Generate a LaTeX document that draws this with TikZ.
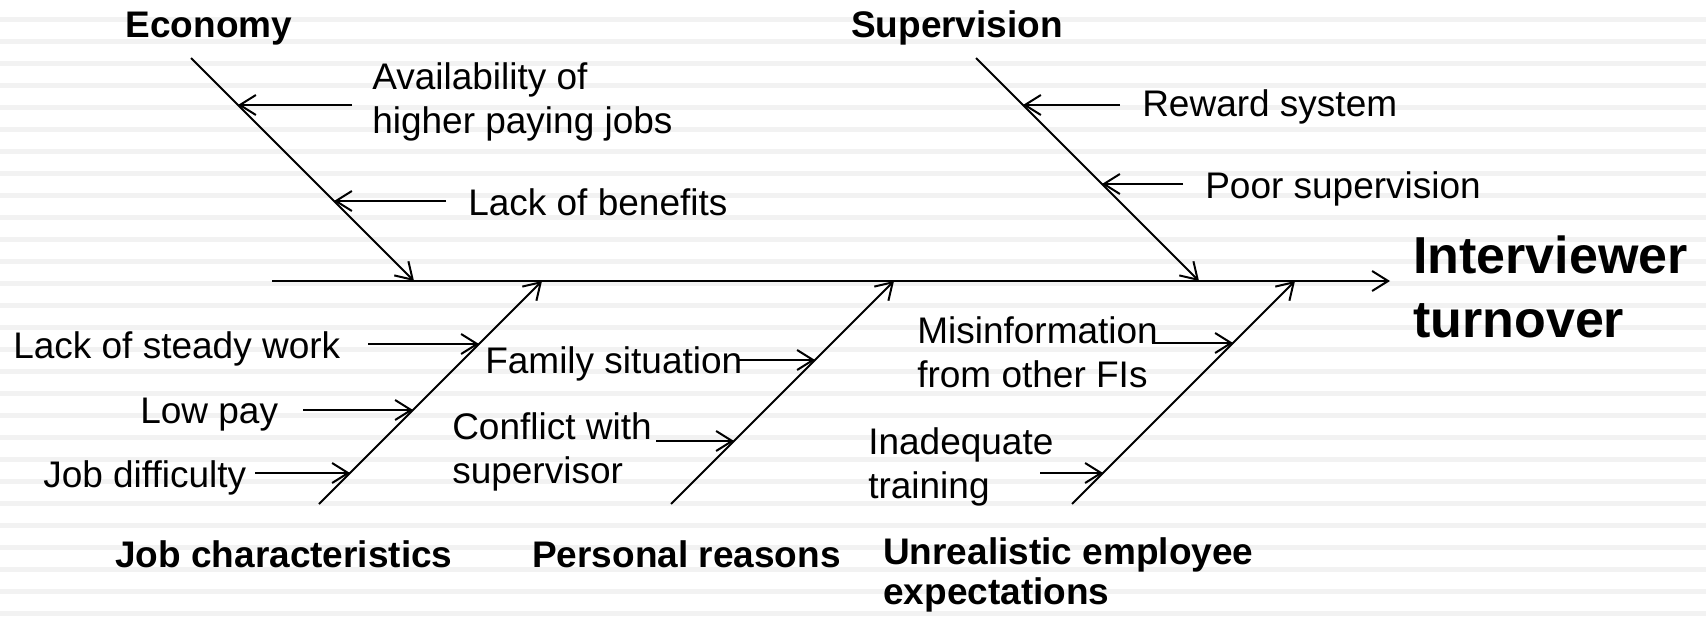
\documentclass[tikz,border=0pt]{standalone}
\usepackage{fontspec}
\setmainfont{Liberation Sans}
\usetikzlibrary{arrows.meta}
\definecolor{stripe}{RGB}{242,242,242}

\tikzset{
  bone/.style={line width=1.5pt},
  cause/.style={line width=1.5pt,-{Straight Barb[length=12pt,width=15pt,line width=1.5pt]}},
  txt/.style={inner sep=0pt,anchor=base west,align=left,font=\fontsize{27.75}{33}\selectfont},
  head/.style={inner sep=0pt,anchor=base west,align=left,font=\fontsize{27.75}{30}\selectfont\bfseries},
}

\begin{document}
\begin{tikzpicture}[x=0.75pt,y=-0.75pt]
\fill[white] (0,0) rectangle (1706,617);
\foreach \k in {0,...,27}
  \fill[stripe] (0,17+22*\k) rectangle (1706,22+22*\k);
\useasboundingbox (0,0) rectangle (1706,617);
%
\draw[cause] (272,281) coordinate(tail) -- (1390,281) coordinate(effect);
\draw[cause] (191,58)  coordinate(econ)  -- (414,281)  coordinate(econ-tip);
\draw[cause] (976,58)  coordinate(super) -- (1199,281) coordinate(super-tip);
\draw[cause] (319,504) coordinate(job)   -- (542,281)  coordinate(job-tip);
\draw[cause] (671,504) coordinate(pers)  -- (894,281)  coordinate(pers-tip);
\draw[cause] (1072,504) coordinate(unre) -- (1295,281) coordinate(unre-tip);
%
\draw[cause] (352,105)  coordinate(a1) -- (238,105)  coordinate(b1);
\draw[cause] (446,201)  coordinate(a2) -- (334,201)  coordinate(b2);
\draw[cause] (1120,105) coordinate(a3) -- (1023,105) coordinate(b3);
\draw[cause] (1183,184) coordinate(a4) -- (1102,184) coordinate(b4);
\draw[cause] (368,344)  coordinate(a5) -- (479,344)  coordinate(b5);
\draw[cause] (303,410)  coordinate(a6) -- (413,410)  coordinate(b6);
\draw[cause] (255,473)  coordinate(a7) -- (350,473)  coordinate(b7);
\draw[cause] (737,360)  coordinate(a8) -- (815,360)  coordinate(b8);
\draw[cause] (656,441)  coordinate(a9) -- (734,441)  coordinate(b9);
\draw[cause] (1152,343) coordinate(a10) -- (1233,343) coordinate(b10);
\draw[cause] (1040,473) coordinate(a11) -- (1103,473) coordinate(b11);
%
% multi-line nodes sit on the baseline of their last line
\node[head,anchor=base] (economy) at (209,38) {Economy};
\node[head,anchor=base] (supervision) at (957,38) {Supervision};
\node[head] (jobchar) at (115,567) {Job characteristics};
\node[head] (personal) at (532,567) {Personal reasons};
\node[head] (unrealistic) at (883,604) {Unrealistic employee\\expectations};
\node[head,font=\fontsize{39}{48}\selectfont\bfseries] (turnover) at (1413,337) {Interviewer\\turnover};
%
\node[txt] (avail) at (372,133) {Availability of\\higher paying jobs};
\node[txt] (benefits) at (468,215) {Lack of benefits};
\node[txt] (reward) at (1142,117) {Reward system};
\node[txt] (poor) at (1205,198) {Poor supervision};
\node[txt] (steady) at (13,358) {Lack of steady work};
\node[txt] (lowpay) at (140,423) {Low pay};
\node[txt] (difficulty) at (43,487) {Job difficulty};
\node[txt] (family) at (485,373) {Family situation};
\node[txt] (conflict) at (452,483) {Conflict with\\supervisor};
\node[txt] (misinfo) at (917,387) {Misinformation\\from other FIs};
\node[txt] (training) at (868,498) {Inadequate\\training};
\end{tikzpicture}
\end{document}
